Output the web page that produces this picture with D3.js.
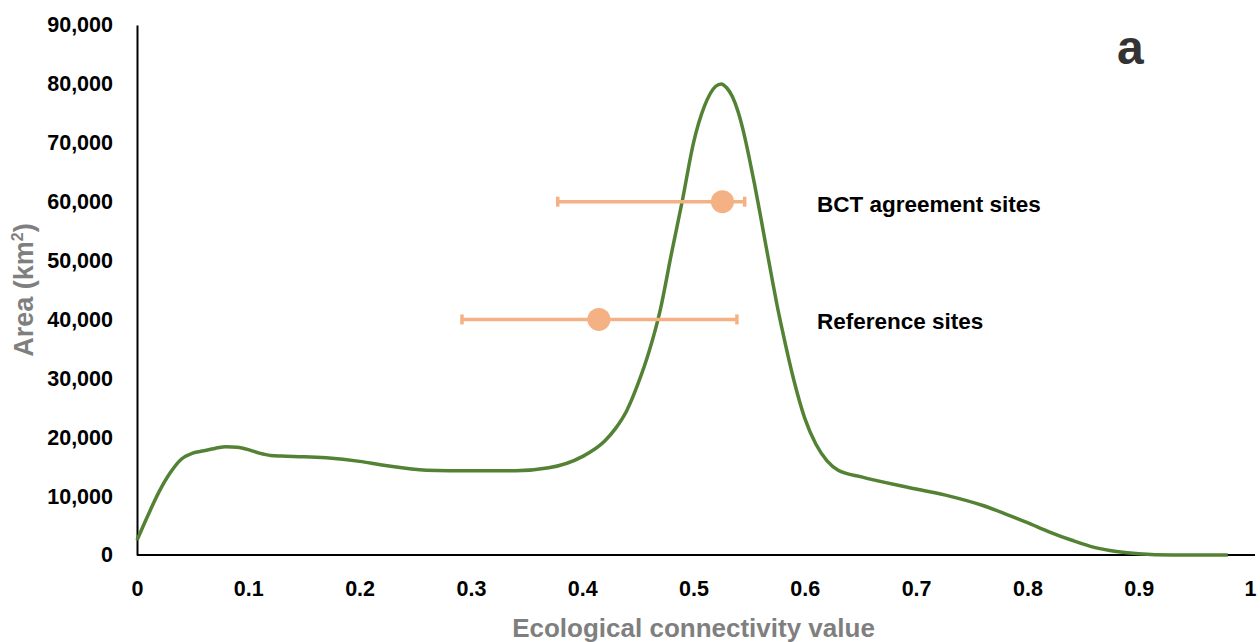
<!DOCTYPE html>
<html>
<head>
<meta charset="utf-8">
<script src="https://cdn.jsdelivr.net/npm/d3@7"></script>
<style>
  body { margin: 0; background: #fff; }
  svg { display: block; }
  .tick text { font-family: "Liberation Sans", Arial, sans-serif; font-weight: bold; font-size: 21.5px; fill: #000; }
</style>
</head>
<body>
<div id="chart"></div>
<script>
// connectivity value (x) and area in km2 (y)
var connectivity = [0, 0.01, 0.02, 0.03, 0.04, 0.05, 0.06, 0.07, 0.08, 0.09, 0.10, 0.11, 0.12, 0.13, 0.15, 0.17, 0.20, 0.22, 0.26, 0.30, 0.34, 0.37, 0.40, 0.42, 0.43, 0.44, 0.45, 0.46, 0.47, 0.48, 0.49, 0.50, 0.51, 0.52, 0.525, 0.53, 0.535, 0.54, 0.545, 0.55, 0.555, 0.56, 0.565, 0.57, 0.575, 0.58, 0.59, 0.60, 0.61, 0.62, 0.63, 0.65, 0.70, 0.73, 0.76, 0.78, 0.80, 0.82, 0.84, 0.86, 0.88, 0.90, 0.93, 0.98];
var area = [2500, 6800, 10800, 14000, 16300, 17300, 17700, 18100, 18400, 18300, 17900, 17300, 16900, 16800, 16700, 16500, 15900, 15300, 14400, 14300, 14300, 14800, 16700, 19300, 21500, 24500, 29000, 34500, 41500, 51000, 60200, 70000, 76300, 79600, 80000, 79300, 77800, 75300, 71800, 67500, 62800, 57800, 52600, 47500, 42500, 38000, 29800, 23200, 18800, 16000, 14400, 13300, 11200, 10000, 8400, 7000, 5500, 3900, 2500, 1300, 600, 200, 0, 0];

// error bar sites
var siteNames = ["BCT agreement sites", "Reference sites"];
var siteMean = [0.526, 0.415];
var siteLow = [0.378, 0.292];
var siteHigh = [0.546, 0.539];
var siteArea = [60000, 40000];

var xTicks = [0, 0.1, 0.2, 0.3, 0.4, 0.5, 0.6, 0.7, 0.8, 0.9, 1];
var yTicks = [0, 10000, 20000, 30000, 40000, 50000, 60000, 70000, 80000, 90000];

var margin = {top: 25, right: 10, bottom: 87, left: 137},
    totalW = 1260, totalH = 642,
    width = 1113,
    height = totalH - margin.top - margin.bottom;

var svg = d3.select("#chart").append("svg")
    .attr("width", totalW)
    .attr("height", totalH);

var g = svg.append("g")
    .attr("transform", "translate(" + margin.left + "," + margin.top + ")");

var x = d3.scaleLinear().domain([0, 1]).range([0, width]);
var y = d3.scaleLinear().domain([0, 90000]).range([height, 0]);

// y axis
var yAxis = g.append("g")
    .call(d3.axisLeft(y).tickValues(yTicks).tickSize(0).tickPadding(24)
      .tickFormat(d3.format(",")));
yAxis.select(".domain").attr("stroke", "#000").attr("stroke-width", 2);

// x axis
var xAxis = g.append("g")
    .attr("transform", "translate(0," + height + ")")
    .call(d3.axisBottom(x).tickValues(xTicks).tickSize(0).tickPadding(26)
      .tickFormat(function(d) { return d === 0 || d === 1 ? d3.format("d")(d) : d3.format(".1f")(d); }));
xAxis.select(".domain").attr("stroke", "#000").attr("stroke-width", 2)
    .attr("d", "M0,0H" + (width + 5));

// axis titles
svg.append("text")
    .attr("x", margin.left + x(0.5))
    .attr("y", 637)
    .attr("text-anchor", "middle")
    .attr("font-family", "Liberation Sans, Arial, sans-serif")
    .attr("font-weight", "bold")
    .attr("font-size", 26)
    .attr("fill", "#7f7f7f")
    .text("Ecological connectivity value");

var yt = svg.append("text")
    .attr("transform", "translate(33," + (margin.top + y(45000)) + ") rotate(-90)")
    .attr("text-anchor", "middle")
    .attr("font-family", "Liberation Sans, Arial, sans-serif")
    .attr("font-weight", "bold")
    .attr("font-size", 27)
    .attr("fill", "#7f7f7f");
yt.append("tspan").text("Area (km");
yt.append("tspan").attr("font-size", 16).attr("dy", -10).text("2");
yt.append("tspan").attr("dy", 10).text(")");

// curve
var pts = connectivity.map(function(c, i) { return [c, area[i]]; });
var line = d3.line()
    .x(function(d) { return x(d[0]); })
    .y(function(d) { return y(d[1]); })
    .curve(d3.curveMonotoneX);

g.append("path")
    .datum(pts)
    .attr("fill", "none")
    .attr("stroke", "#548235")
    .attr("stroke-width", 3.5)
    .attr("d", line);

// error bars
var orange = "#f4b183";
siteNames.forEach(function(name, i) {
  var cy = y(siteArea[i]);
  g.append("line")
      .attr("x1", x(siteLow[i])).attr("x2", x(siteHigh[i]))
      .attr("y1", cy).attr("y2", cy)
      .attr("stroke", orange).attr("stroke-width", 3.5);
  [siteLow[i], siteHigh[i]].forEach(function(v) {
    g.append("line")
        .attr("x1", x(v)).attr("x2", x(v))
        .attr("y1", cy - 5).attr("y2", cy + 5)
        .attr("stroke", orange).attr("stroke-width", 3.5);
  });
  g.append("circle")
      .attr("cx", x(siteMean[i])).attr("cy", cy)
      .attr("r", 11.5)
      .attr("fill", orange);
  g.append("text")
      .attr("x", x(0.611))
      .attr("y", cy + 10)
      .attr("font-family", "Liberation Sans, Arial, sans-serif")
      .attr("font-weight", "bold")
      .attr("font-size", 22.5)
      .attr("fill", "#000")
      .text(name);
});

// panel letter
svg.append("text")
    .attr("x", 1117)
    .attr("y", 64)
    .attr("font-family", "Liberation Sans, Arial, sans-serif")
    .attr("font-weight", "bold")
    .attr("font-size", 48)
    .attr("fill", "#333")
    .text("a");
</script>
</body>
</html>
